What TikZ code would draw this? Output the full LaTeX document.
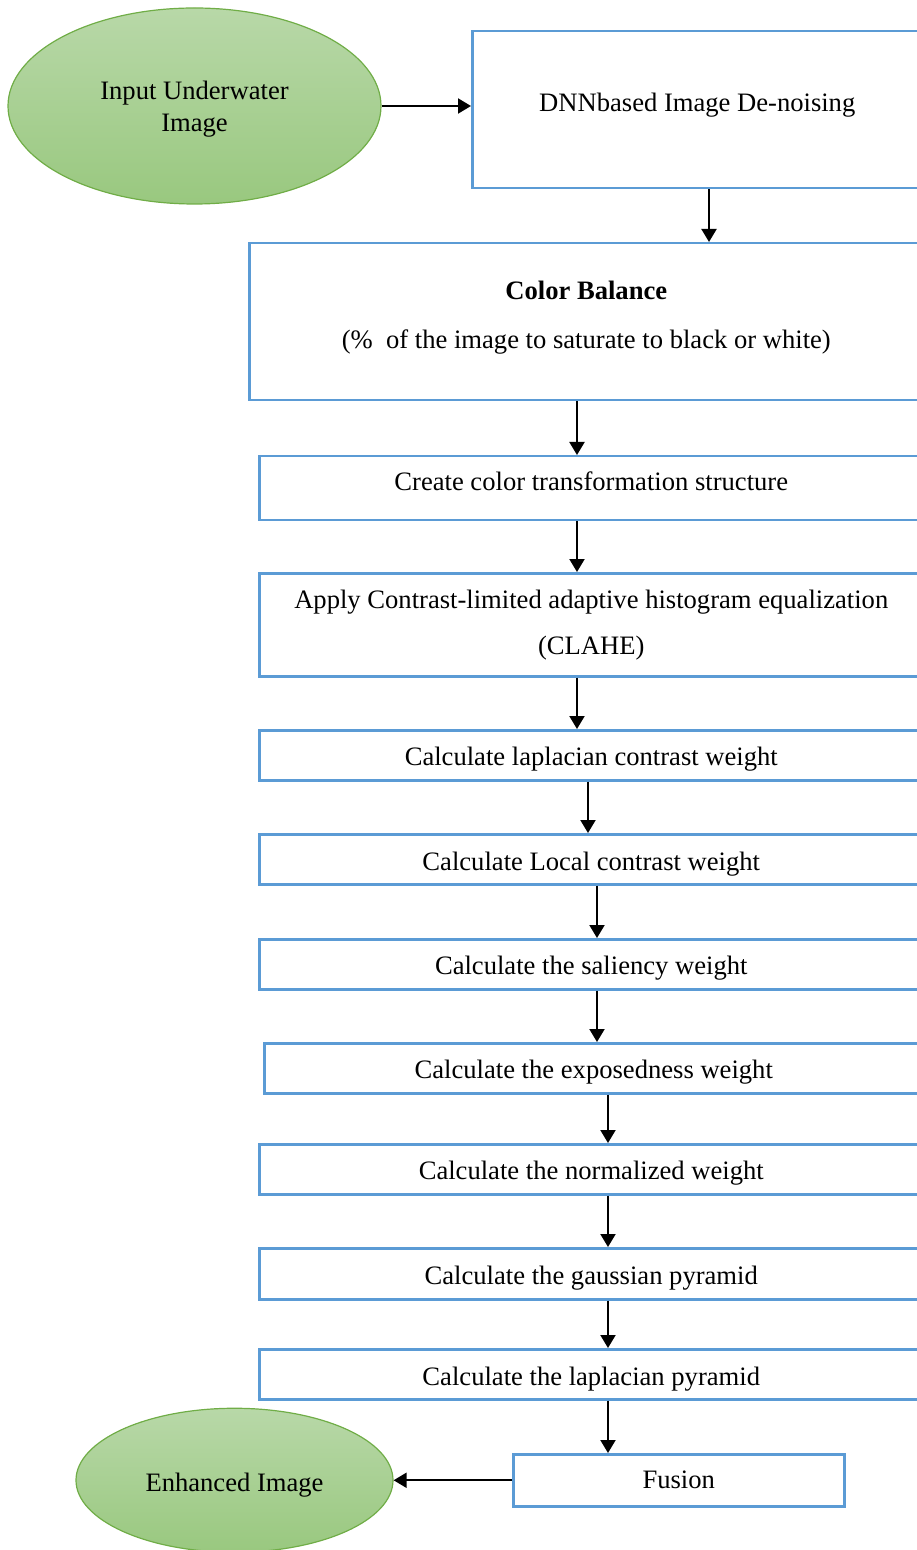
\documentclass[tikz,border=0pt]{standalone}
\usepackage{fontspec}
\setmainfont{Liberation Serif}
\usetikzlibrary{positioning, shapes.geometric, arrows.meta}
\definecolor{boxblue}{RGB}{91,155,213}
\definecolor{ovalline}{RGB}{112,173,71}
\definecolor{ovaltop}{RGB}{184,216,168}
\definecolor{ovalbot}{RGB}{153,200,127}
\tikzset{
  Proc/.style = {rectangle, draw=boxblue, line width=1.25pt, inner sep=0pt, anchor=north west, minimum width=332pt, minimum height=25pt, font=\fontsize{13.3}{16}\selectfont},
  OneLine/.style = {text height=13pt, text depth=3pt},
  Term/.style = {ellipse, draw=ovalline, line width=0.6pt, top color=ovaltop, bottom color=ovalbot, align=center, inner sep=0pt, font=\fontsize{13.3}{16}\selectfont},
  Flow/.style = {-{Triangle[length=6.5pt, width=7.5pt]}, line width=1pt, black}
}
\begin{document}
\begin{tikzpicture}[x=0.5pt, y=-0.5pt]
    \useasboundingbox (0,0) rectangle (916,1550);

    %%%%%%%%%%%%%%%%%%%%%%
    \node[Term, minimum width=186.5pt, minimum height=98pt, text depth=0pt] (input) at (194.5,106) {Input Underwater\\Image};
    \node[Proc, minimum width=225pt, minimum height=78.5pt, text height=4.5pt, text depth=3pt] (dnn) at (471,30) {DNNbased Image De-noising};

    \node[Proc, minimum width=337pt, minimum height=78.5pt, align=center, text depth=7pt] (cbal) at (248,242) {\textbf{Color Balance}\\[8.2pt](\%~ of the image to saturate to black or white)};
    \node[Proc, minimum height=32pt, text height=5pt, text depth=3pt] (cct) at (258,455) {Create color transformation structure};
    \node[Proc, minimum height=51.5pt, align=center] (clahe) at (258,572) {Apply Contrast-limited adaptive histogram equalization\\[7pt](CLAHE)};

    %%%%%%%%%%%%%%%%%%%%%%
    \node[Proc, OneLine] (lapw) at (258,729) {Calculate laplacian contrast weight};
    \node[Proc, OneLine, text height=14pt] (locw) at (258,833) {Calculate Local contrast weight};
    \node[Proc, OneLine] (salw) at (258,938) {Calculate the saliency weight};
    \node[Proc, OneLine, minimum width=329.5pt] (expw) at (263,1042) {Calculate the exposedness weight};
    \node[Proc, OneLine] (nrmw) at (258,1143) {Calculate the normalized weight};
    \node[Proc, OneLine, minimum height=25.5pt, text height=13.5pt] (gpyr) at (258,1247) {Calculate the gaussian pyramid};
    \node[Proc, OneLine, text height=14pt] (lpyr) at (258,1348) {Calculate the laplacian pyramid};

    %%%%%%%%%%%%%%%%%%%%%%
    \node[Proc, minimum width=165.5pt, minimum height=26pt, text height=11.5pt, text depth=3pt] (fus) at (512,1453) {Fusion};
    \node[Term, minimum width=158.5pt, minimum height=72pt, text height=14pt, text depth=3pt] (enh) at (234.5,0 |- fus) {Enhanced Image};

    \draw[Flow] (input) to (dnn.west |- input);
    \draw[Flow] (709,0 |- dnn.south) to (709,0 |- cbal.north);
    \draw[Flow] (577,0 |- cbal.south) to (577,0 |- cct.north);
    \draw[Flow] (577,0 |- cct.south) to (577,0 |- clahe.north);
    \draw[Flow] (577,0 |- clahe.south) to (577,0 |- lapw.north);
    \draw[Flow] (588,0 |- lapw.south) to (588,0 |- locw.north);
    \draw[Flow] (597,0 |- locw.south) to (597,0 |- salw.north);
    \draw[Flow] (597,0 |- salw.south) to (597,0 |- expw.north);
    \draw[Flow] (608,0 |- expw.south) to (608,0 |- nrmw.north);
    \draw[Flow] (608,0 |- nrmw.south) to (608,0 |- gpyr.north);
    \draw[Flow] (608,0 |- gpyr.south) to (608,0 |- lpyr.north);
    \draw[Flow] (608,0 |- lpyr.south) to (608,0 |- fus.north);
    \draw[Flow] (fus.west) to (enh.east);

\end{tikzpicture}
\end{document}
